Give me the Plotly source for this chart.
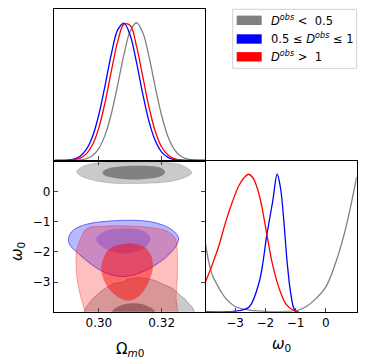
import plotly.graph_objects as go
from plotly.subplots import make_subplots

W, H = 366, 364

# --- 1D marginal of Omega_m0 (peak normalised) ---
om_grid = [0.286, 0.288, 0.290, 0.292, 0.294, 0.296, 0.298, 0.300, 0.302, 0.304,
           0.306, 0.308, 0.310, 0.312, 0.314, 0.316, 0.318, 0.320, 0.322, 0.324,
           0.326, 0.328, 0.330, 0.332, 0.334]
om_pdf_low = [0, 0.0001, 0.0003, 0.0012, 0.004, 0.013, 0.036, 0.088, 0.186, 0.343,
              0.550, 0.771, 0.940, 1.0, 0.927, 0.750, 0.528, 0.325, 0.174, 0.081,
              0.033, 0.012, 0.004, 0.001, 0.0002]
om_pdf_mid = [0.0002, 0.0008, 0.003, 0.0105, 0.031, 0.080, 0.176, 0.334, 0.548, 0.777,
              0.948, 0.998, 0.907, 0.710, 0.480, 0.280, 0.141, 0.061, 0.023, 0.007,
              0.002, 0.0005, 0.0001, 0, 0]
om_pdf_high = [0.0001, 0.0003, 0.0015, 0.0054, 0.017, 0.048, 0.116, 0.239, 0.425, 0.653,
               0.865, 0.99, 0.98, 0.828, 0.607, 0.383, 0.209, 0.098, 0.040, 0.014,
               0.004, 0.001, 0.0002, 0, 0]

# --- 1D marginal of omega_0 ---
w_low = [-4.0, -3.87, -3.76, -3.53, -3.31, -2.98, -2.53, -1.98, -1.42, -0.93,
         -0.66, -0.32, 0.0, 0.33, 0.66, 1.02]
w_pdf_low = [0.52, 0.36, 0.27, 0.17, 0.097, 0.036, 0.012, 0.002, 0.001, 0.01,
             0.036, 0.097, 0.18, 0.36, 0.61, 0.98]
w_mid = [-4.0, -3.2, -2.87, -2.53, -2.20, -1.95, -1.76, -1.61, -1.50, -1.39,
         -1.28, -1.17, -1.06, -0.98, -0.9]
w_pdf_mid = [0, 0.0, 0.007, 0.036, 0.22, 0.56, 0.80, 1.0, 0.90, 0.66,
             0.36, 0.146, 0.024, 0.0, 0.0]
w_high = [-4.0, -3.76, -3.53, -3.31, -3.09, -2.87, -2.70, -2.56, -2.43, -2.30,
          -2.15, -1.95, -1.76, -1.53, -1.31, -1.09, -0.93, -0.9]
w_pdf_high = [0.206, 0.34, 0.485, 0.655, 0.80, 0.92, 0.976, 1.0, 0.98, 0.92,
              0.80, 0.56, 0.34, 0.16, 0.053, 0.012, 0.0, 0.0]

# --- 2D contours (Omega_m0, omega_0), 95% (outer) and 68% (inner) ---
low_top95_om = [0.2929, 0.2956, 0.3004, 0.3099, 0.3195, 0.3258, 0.3296, 0.3274, 0.3227,
                0.3131, 0.3035, 0.2972, 0.2940, 0.2929]
low_top95_w = [0.649, 0.857, 0.939, 0.962, 0.956, 0.890, 0.626, 0.461, 0.329,
               0.263, 0.280, 0.395, 0.527, 0.649]
low_top68_om = [0.3011, 0.3029, 0.3067, 0.3115, 0.3163, 0.3201, 0.3211, 0.3195, 0.3147,
                0.3099, 0.3051, 0.3019, 0.3011]
low_top68_w = [0.626, 0.758, 0.824, 0.847, 0.834, 0.758, 0.626, 0.494, 0.412,
               0.395, 0.445, 0.527, 0.626]
low_bot95_om = [0.2950, 0.2956, 0.2972, 0.2993, 0.3019, 0.3051, 0.3073, 0.3094, 0.3120,
                0.3152, 0.3184, 0.3211, 0.3237, 0.3258, 0.3274, 0.3285, 0.3296, 0.3306,
                0.3312, 0.2950]
low_bot95_w = [-4.2, -3.92, -3.65, -3.43, -3.21, -3.04, -3.01, -2.90, -2.86,
               -2.88, -2.97, -3.10, -3.23, -3.43, -3.56, -3.70, -3.81, -4.03,
               -4.2, -4.2]
low_bot68_om = [0.3035, 0.3046, 0.3067, 0.3099, 0.3126, 0.3152, 0.3173, 0.3184, 0.3035]
low_bot68_w = [-4.2, -3.92, -3.78, -3.71, -3.71, -3.78, -3.90, -4.2, -4.2]

mid95_om = [0.2903, 0.2918, 0.2961, 0.3035, 0.3110, 0.3173, 0.3227, 0.3253, 0.3250,
            0.3227, 0.3195, 0.3152, 0.3099, 0.3057, 0.3014, 0.2972, 0.2934, 0.2908, 0.2903]
mid95_w = [-1.560, -1.286, -1.088, -0.980, -0.957, -1.022, -1.230, -1.507, -1.725,
           -2.054, -2.331, -2.605, -2.793, -2.803, -2.661, -2.384, -2.054, -1.780, -1.560]
mid68_om = [0.2991, 0.3014, 0.3078, 0.3142, 0.3165, 0.3142, 0.3083, 0.3025, 0.2991]
mid68_w = [-1.593, -1.342, -1.230, -1.309, -1.560, -1.890, -2.054, -1.923, -1.593]

high95_om = [0.2961, 0.3014, 0.3089, 0.3163, 0.3216, 0.3243, 0.3250, 0.3250, 0.3246,
             0.3243, 0.2955, 0.2953, 0.2942, 0.2931, 0.2927, 0.2929, 0.2940, 0.2961]
high95_w = [-1.230, -1.154, -1.144, -1.197, -1.309, -1.560, -2.054, -2.826, -3.485,
            -4.2, -4.2, -3.9, -3.485, -2.934, -2.384, -1.945, -1.616, -1.230]
high68_om = [0.3035, 0.3089, 0.3115, 0.3147, 0.3168, 0.3171, 0.3154, 0.3126, 0.3094,
             0.3073, 0.3035, 0.3012, 0.3009, 0.3035]
high68_w = [-1.890, -1.725, -1.740, -1.857, -2.166, -2.605, -3.099, -3.485, -3.617,
            -3.571, -3.264, -2.826, -2.384, -1.890]

om_range = [0.2857, 0.3338]
w_range = [-3.98, 1.02]
om_ticks = [0.30, 0.32]
w_ticks = [-3, -2, -1, 0]

legend_labels = ["<i>D</i><sup><i>obs</i></sup> <  0.5",
                 "0.5 ≤ <i>D</i><sup><i>obs</i></sup> ≤ 1",
                 "<i>D</i><sup><i>obs</i></sup> >  1"]
legend_colors = ["#808080", "#0000ff", "#ff0000"]

GRAY, BLUE, RED = "#808080", "#0000ff", "#ff0000"

fig = make_subplots(rows=2, cols=2, specs=[[{}, None], [{}, {}]])


def curve(x, y, color, row, col):
    fig.add_trace(go.Scatter(x=x, y=y, mode="lines", line=dict(color=color, width=1.3),
                             line_shape="spline", showlegend=False, hoverinfo="skip"),
                  row=row, col=col)


def region(x, y, fill, edge):
    fig.add_trace(go.Scatter(x=x, y=y, mode="lines", fill="toself", fillcolor=fill,
                             line=dict(color=edge, width=0.9 if edge else 0),
                             line_shape="spline", showlegend=False, hoverinfo="skip"),
                  row=2, col=1)


curve(om_grid, om_pdf_low, GRAY, 1, 1)
curve(om_grid, om_pdf_mid, BLUE, 1, 1)
curve(om_grid, om_pdf_high, RED, 1, 1)

curve(w_low, w_pdf_low, GRAY, 2, 2)
curve(w_mid, w_pdf_mid, BLUE, 2, 2)
curve(w_high, w_pdf_high, RED, 2, 2)

region(low_top95_om, low_top95_w, "rgba(128,128,128,0.42)", "rgba(128,128,128,0.4)")
region(low_top68_om, low_top68_w, "rgba(110,110,110,0.8)", None)
region(low_bot95_om, low_bot95_w, "rgba(128,128,128,0.42)", "rgba(100,100,100,0.5)")
region(low_bot68_om, low_bot68_w, "rgba(110,110,110,0.8)", None)
region(mid95_om, mid95_w, "rgba(0,0,255,0.28)", "rgba(0,0,230,0.6)")
region(mid68_om, mid68_w, "rgba(0,0,255,0.22)", None)
region(high95_om, high95_w, "rgba(255,0,0,0.25)", "rgba(255,0,0,0.35)")
region(high68_om, high68_w, "rgba(255,0,0,0.46)", None)


def px(x):
    return x / W


def py(y):
    return 1 - y / H


frame = dict(showline=True, linecolor="black", linewidth=1.2, mirror=True,
             showgrid=False, zeroline=False)
tick_font = dict(family="DejaVu Sans", size=12, color="black")

# top-left: marginal of Omega_m0
fig.update_xaxes(domain=[px(54), px(205)], range=om_range, tickvals=om_ticks,
                 showticklabels=False, ticks="inside", ticklen=4, **frame, row=1, col=1)
fig.update_yaxes(domain=[py(160.5), py(9)], range=[0, 1.1], showticklabels=False,
                 ticks="", **frame, row=1, col=1)
# bottom-left: 2D contours
fig.update_xaxes(domain=[px(54), px(205)], range=om_range, tickvals=om_ticks,
                 ticktext=["0.30", "0.32"], ticks="inside", ticklen=4, tickfont=tick_font,
                 **{**frame, "mirror": "allticks"}, row=2, col=1)
fig.update_yaxes(domain=[py(311.7), py(160.5)], range=w_range, tickvals=w_ticks,
                 ticks="inside", ticklen=4, tickfont=tick_font,
                 **{**frame, "mirror": "allticks"}, row=2, col=1)
# bottom-right: marginal of omega_0
fig.update_xaxes(domain=[px(205.5), px(356.7)], range=w_range, tickvals=w_ticks,
                 ticks="inside", ticklen=4, tickfont=tick_font, **frame, row=2, col=2)
fig.update_yaxes(domain=[py(311.7), py(160.5)], range=[0, 1.1], showticklabels=False,
                 ticks="", **frame, row=2, col=2)

title_font = dict(family="DejaVu Sans", size=15, color="black")
annotations = [
    dict(x=px(130), y=py(349), text="Ω<sub><i>m</i>0</sub>", textangle=0),
    dict(x=px(281), y=py(344), text="<i>ω</i><sub>0</sub>", textangle=0),
    dict(x=px(17), y=py(252), text="<i>ω</i><sub>0</sub>", textangle=-90),
]
for a in annotations:
    fig.add_annotation(xref="paper", yref="paper", showarrow=False,
                       xanchor="center", yanchor="middle", font=title_font, **a)

# legend drawn as a framed box with colour patches
fig.add_shape(type="rect", xref="paper", yref="paper", x0=px(232.7), x1=px(356.7),
              y0=py(68.3), y1=py(9.3), line=dict(color="#d0d0d0", width=1),
              fillcolor="white")
centers = [20.3, 39.0, 56.8]
for lbl, col, c in zip(legend_labels, legend_colors, centers):
    fig.add_shape(type="rect", xref="paper", yref="paper", x0=px(236.7), x1=px(261.7),
                  y0=py(c + 4.7), y1=py(c - 4.7), line=dict(width=0), fillcolor=col)
    fig.add_annotation(xref="paper", yref="paper", x=px(269), y=py(c), text=lbl,
                       showarrow=False, xanchor="left", yanchor="middle",
                       font=dict(family="DejaVu Sans", size=11.5, color="black"))

fig.update_layout(width=W, height=H, margin=dict(l=0, r=0, t=0, b=0),
                  paper_bgcolor="white", plot_bgcolor="white", showlegend=False)

fig.write_html("out.html", config={"displayModeBar": False},
               post_script="document.body.style.margin='0';")
